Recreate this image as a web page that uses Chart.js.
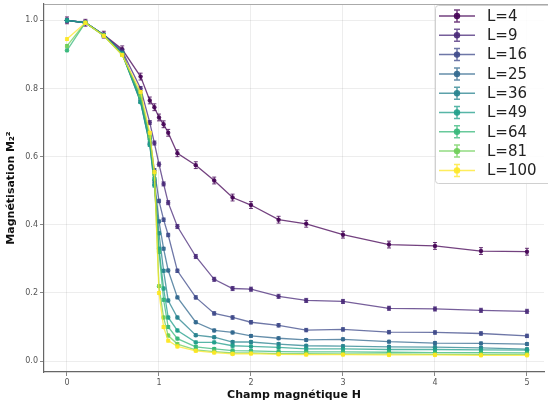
<!DOCTYPE html>
<html lang="fr">
<head>
<meta charset="UTF-8" />
<title>Magnétisation en fonction du champ</title>
<script src="https://cdn.jsdelivr.net/npm/chart.js"></script>
<style>
  html, body { margin: 0; padding: 0; background: #fff; }
  #wrap { width: 548px; height: 408px; position: relative; }
</style>
</head>
<body>
<div id="wrap"><canvas id="chart"></canvas></div>
<script>
// Champ magnétique H (abscisses)
const champH = [0, 0.2, 0.4, 0.6, 0.8, 0.9, 0.95, 1.0, 1.05, 1.1, 1.2, 1.4, 1.6, 1.8, 2.0, 2.3, 2.6, 3.0, 3.5, 4.0, 4.5, 5.0];

// tailles de systeme
const tailles = [4, 9, 16, 25, 36, 49, 64, 81, 100];

// M_2^2 pour chaque L
const magL4   = [1.0, 0.993, 0.958, 0.915, 0.835, 0.765, 0.745, 0.715, 0.695, 0.670, 0.610, 0.575, 0.530, 0.480, 0.458, 0.415, 0.403, 0.371, 0.342, 0.338, 0.323, 0.321];
const magL9   = [1.0, 0.993, 0.957, 0.910, 0.800, 0.700, 0.640, 0.578, 0.520, 0.465, 0.395, 0.307, 0.240, 0.213, 0.211, 0.190, 0.178, 0.175, 0.155, 0.153, 0.149, 0.146];
const magL16  = [1.0, 0.993, 0.957, 0.906, 0.770, 0.655, 0.560, 0.470, 0.415, 0.370, 0.265, 0.187, 0.140, 0.128, 0.114, 0.105, 0.091, 0.093, 0.085, 0.084, 0.081, 0.074];
const magL25  = [1.0, 0.993, 0.957, 0.904, 0.763, 0.640, 0.530, 0.410, 0.330, 0.266, 0.187, 0.114, 0.090, 0.084, 0.074, 0.067, 0.062, 0.064, 0.057, 0.053, 0.052, 0.050];
const magL36  = [1.0, 0.993, 0.957, 0.903, 0.760, 0.635, 0.520, 0.375, 0.265, 0.178, 0.128, 0.076, 0.070, 0.056, 0.056, 0.050, 0.045, 0.044, 0.042, 0.041, 0.039, 0.035];
const magL49  = [1.0, 0.993, 0.957, 0.902, 0.760, 0.635, 0.515, 0.330, 0.213, 0.128, 0.090, 0.055, 0.055, 0.045, 0.043, 0.040, 0.036, 0.036, 0.034, 0.034, 0.033, 0.032];
const magL64  = [0.912, 0.993, 0.955, 0.900, 0.772, 0.650, 0.535, 0.320, 0.180, 0.100, 0.066, 0.042, 0.036, 0.031, 0.030, 0.028, 0.027, 0.027, 0.026, 0.025, 0.025, 0.024];
const magL81  = [0.925, 0.993, 0.955, 0.899, 0.780, 0.660, 0.550, 0.220, 0.128, 0.075, 0.050, 0.033, 0.028, 0.024, 0.024, 0.022, 0.022, 0.021, 0.021, 0.020, 0.020, 0.020];
const magL100 = [0.945, 0.993, 0.955, 0.898, 0.790, 0.670, 0.555, 0.200, 0.100, 0.060, 0.043, 0.030, 0.025, 0.021, 0.022, 0.020, 0.019, 0.019, 0.018, 0.018, 0.017, 0.017];

// barre d'erreur typique par L
const erreurs = [0.010, 0.006, 0.005, 0.004, 0.004, 0.004, 0.004, 0.004, 0.004];

const ticksX = [0, 1, 2, 3, 4, 5];
const ticksY = [0.0, 0.2, 0.4, 0.6, 0.8, 1.0];

// viridis, 9 couleurs
const couleurs = ["#440154", "#482878", "#3e4989", "#31688e", "#26828e", "#1f9e89", "#35b779", "#6ece58", "#fde725"];

const series = [magL4, magL9, magL16, magL25, magL36, magL49, magL64, magL81, magL100];

function alpha(hex, a) {
  const n = parseInt(hex.slice(1), 16);
  return `rgba(${(n >> 16) & 255}, ${(n >> 8) & 255}, ${n & 255}, ${a})`;
}

const datasets = series.map((vals, i) => ({
  label: "L=" + tailles[i],
  data: vals.map((v, j) => ({ x: champH[j], y: v })),
  borderColor: alpha(couleurs[i], 0.75),
  backgroundColor: alpha(couleurs[i], 0.9),
  borderWidth: 1.3,
  pointRadius: 2.2,
  pointBorderWidth: 0,
  tension: 0,
  erreur: erreurs[i],
  couleur: couleurs[i],
  order: tailles.length - i
}));

// barres d'erreur verticales avec petits chapeaux
const barresErreur = {
  id: "barresErreur",
  afterDatasetDraw(chart, args) {
    const ds = chart.data.datasets[args.index];
    const ys = chart.scales.y;
    const ctx = chart.ctx;
    ctx.save();
    ctx.strokeStyle = alpha(ds.couleur, 0.8);
    ctx.lineWidth = 1;
    args.meta.data.forEach((pt, i) => {
      const v = ds.data[i].y;
      const y1 = ys.getPixelForValue(v - ds.erreur);
      const y2 = ys.getPixelForValue(v + ds.erreur);
      ctx.beginPath();
      ctx.moveTo(pt.x, y1); ctx.lineTo(pt.x, y2);
      ctx.moveTo(pt.x - 2, y1); ctx.lineTo(pt.x + 2, y1);
      ctx.moveTo(pt.x - 2, y2); ctx.lineTo(pt.x + 2, y2);
      ctx.stroke();
    });
    ctx.restore();
  }
};

// cadre haut + legende dans la zone de trace
const legendeInterne = {
  id: "legendeInterne",
  afterDraw(chart) {
    const ctx = chart.ctx;
    const area = chart.chartArea;
    ctx.save();
    ctx.strokeStyle = "#aaa";
    ctx.lineWidth = 1;
    ctx.beginPath();
    ctx.moveTo(area.left, area.top + 0.5);
    ctx.lineTo(chart.width, area.top + 0.5);
    ctx.stroke();

    const bx = 435, by = area.top + 1, bw = 130, bh = 178;
    ctx.fillStyle = "rgba(255,255,255,0.85)";
    ctx.strokeStyle = "#d0d0d0";
    ctx.beginPath();
    ctx.roundRect(bx + 0.5, by + 0.5, bw, bh, 3);
    ctx.fill();
    ctx.stroke();

    ctx.font = "15px 'DejaVu Sans'";
    ctx.textBaseline = "middle";
    chart.data.datasets.forEach((ds, i) => {
      const y = 16 + i * 19.3;
      const c = ds.couleur;
      ctx.strokeStyle = alpha(c, 0.75);
      ctx.lineWidth = 1.5;
      ctx.beginPath();
      ctx.moveTo(439, y); ctx.lineTo(475, y);
      ctx.moveTo(457, y - 6); ctx.lineTo(457, y + 6);
      ctx.moveTo(454, y - 6); ctx.lineTo(460, y - 6);
      ctx.moveTo(454, y + 6); ctx.lineTo(460, y + 6);
      ctx.stroke();
      ctx.fillStyle = alpha(c, 0.9);
      ctx.beginPath();
      ctx.arc(457, y, 3.2, 0, Math.PI * 2);
      ctx.fill();
      ctx.fillStyle = "#222";
      ctx.fillText(ds.label, 487, y + 1);
    });
    ctx.restore();
  }
};

new Chart(document.getElementById("chart"), {
  type: "line",
  data: { datasets },
  options: {
    responsive: true,
    maintainAspectRatio: false,
    animation: false,
    layout: { padding: { top: 2, right: 0, left: 0, bottom: 0 } },
    plugins: {
      legend: { display: false },
      tooltip: { enabled: false }
    },
    scales: {
      x: {
        type: "linear",
        min: -0.25,
        max: 5.185,
        afterFit: (s) => { s.height = 36; },
        afterBuildTicks: (s) => { s.ticks = ticksX.map((v) => ({ value: v })); },
        ticks: {
          color: "#555",
          font: { family: "DejaVu Sans", size: 8 },
          padding: 2,
          maxRotation: 0,
          callback: (v) => String(v)
        },
        grid: { color: "rgba(0,0,0,0.07)", tickLength: 4, tickColor: "#888" },
        border: { color: "#666", width: 1.2 },
        title: {
          display: true,
          text: "Champ magnétique H",
          color: "#111",
          font: { family: "DejaVu Sans", size: 11, weight: "bold" },
          padding: { top: 0, bottom: 6 }
        }
      },
      y: {
        min: -0.032,
        max: 1.048,
        afterFit: (s) => { s.width = 44; },
        afterBuildTicks: (s) => { s.ticks = ticksY.map((v) => ({ value: v })); },
        ticks: {
          color: "#555",
          font: { family: "DejaVu Sans", size: 8, lineHeight: 0.4 },
          padding: 2,
          callback: (v) => v.toFixed(1)
        },
        grid: { color: "rgba(0,0,0,0.07)", tickLength: 4, tickColor: "#888" },
        border: { color: "#666", width: 1.2 },
        title: {
          display: true,
          text: "Magnétisation M₂²",
          color: "#111",
          font: { family: "DejaVu Sans", size: 11, weight: "bold" },
          padding: { top: 5, bottom: 0 }
        }
      }
    }
  },
  plugins: [barresErreur, legendeInterne]
});
</script>
</body>
</html>
